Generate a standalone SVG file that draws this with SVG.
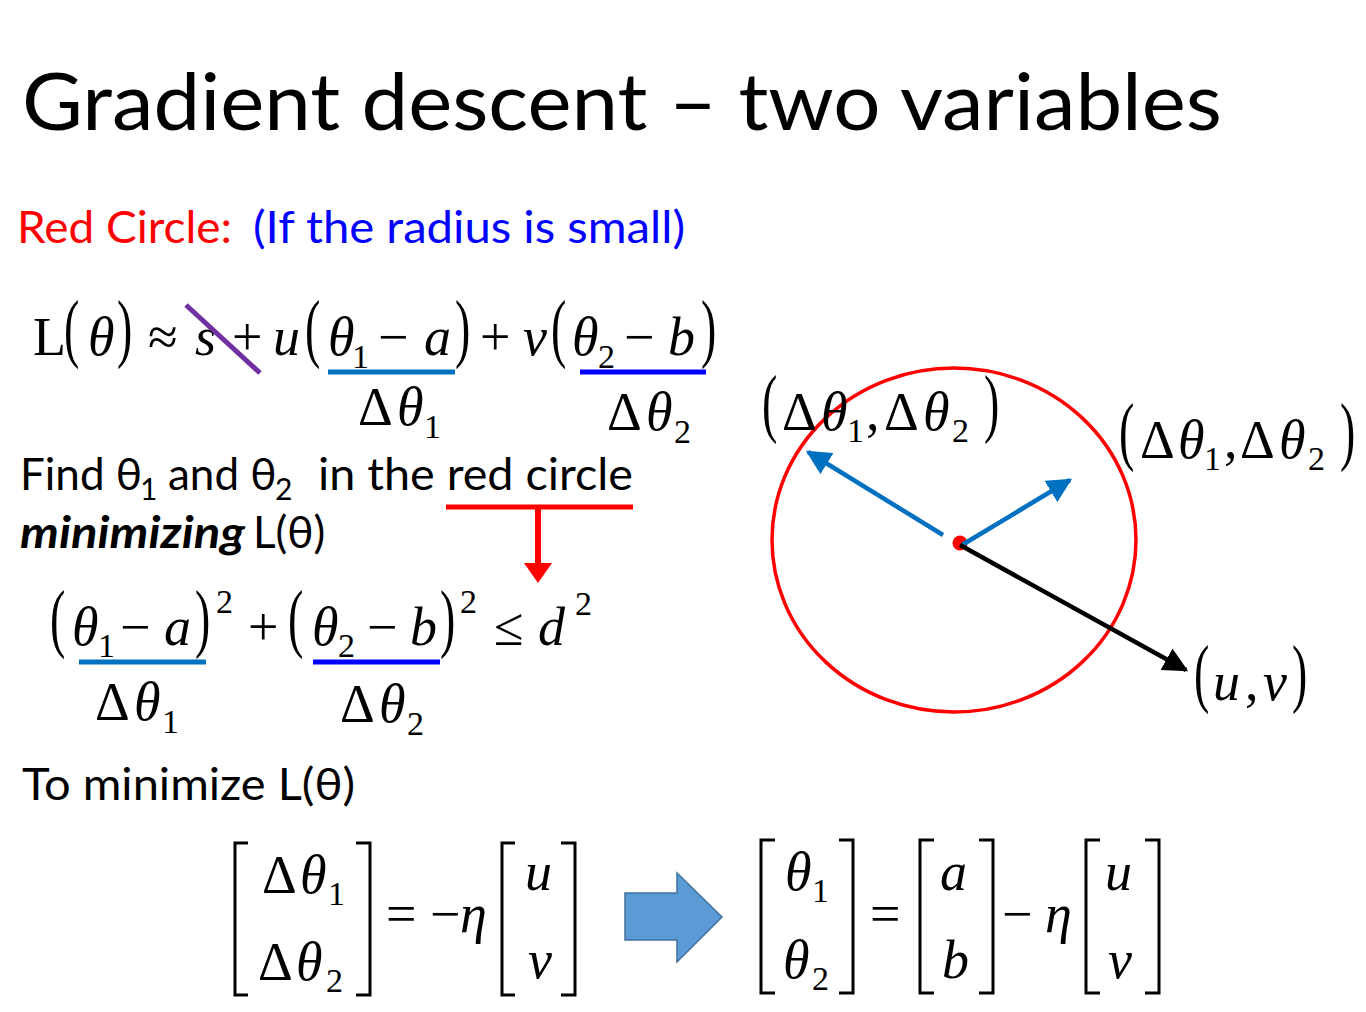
<svg xmlns="http://www.w3.org/2000/svg" width="1366" height="1012" viewBox="0 0 1366 1012">
<style>
.sans{font-family:Lato,"Open Sans","DejaVu Sans",sans-serif;fill:#000}
.m{font-family:"Liberation Serif","Times New Roman",serif;font-style:italic;font-size:54px;fill:#000}
.u{font-family:"Liberation Serif","Times New Roman",serif;font-style:normal;font-size:54px;fill:#000}
.s{font-family:"Liberation Serif","Times New Roman",serif;font-style:normal;font-size:34px;fill:#000}
.br{fill:none;stroke:#000;stroke-width:3}
.ul1{stroke:#0070C0;stroke-width:5}
.ul2{stroke:#0000FF;stroke-width:5}
</style>
<defs>
<marker id="ab" viewBox="0 0 10 10" refX="9" refY="5" markerWidth="5.5" markerHeight="5.5" orient="auto"><path d="M0,0 L10,5 L0,10 z" fill="#0070C0"/></marker>
<marker id="ak" viewBox="0 0 10 10" refX="9" refY="5" markerWidth="5.5" markerHeight="5.5" orient="auto"><path d="M0,0 L10,5 L0,10 z" fill="#000"/></marker>
</defs>
<rect width="1366" height="1012" fill="#fff"/>

<g id="title">
<text class="sans" x="22" y="130" font-size="80" textLength="1200" lengthAdjust="spacingAndGlyphs">Gradient descent – two variables</text>
</g>

<g id="subtitle">
<text class="sans" x="17" y="243" font-size="44" style="fill:#FF0000" textLength="215" lengthAdjust="spacingAndGlyphs">Red Circle:</text>
<text class="sans" x="253" y="243" font-size="44" style="fill:#0000FF" textLength="432" lengthAdjust="spacingAndGlyphs">(If the radius is small)</text>
</g>

<g id="eq1">
<text class="u" x="33" y="355">L</text>
<text class="u" transform="translate(64,353) scale(0.85,1.4)">(</text>
<text class="m" x="88" y="355">θ</text>
<text class="u" transform="translate(117,353) scale(0.85,1.4)">)</text>
<text class="u" x="148" y="355">≈</text>
<text class="m" x="195" y="355">s</text>
<text class="u" x="232" y="355">+</text>
<text class="m" x="273" y="355">u</text>
<text class="u" transform="translate(305,353) scale(0.85,1.4)">(</text>
<text class="m" x="328" y="355">θ</text>
<text class="s" x="352" y="368">1</text>
<text class="u" x="378" y="355">−</text>
<text class="m" x="424" y="355">a</text>
<text class="u" transform="translate(455,353) scale(0.85,1.4)">)</text>
<text class="u" x="480" y="355">+</text>
<text class="m" x="523" y="355">v</text>
<text class="u" transform="translate(551,353) scale(0.85,1.4)">(</text>
<text class="m" x="572" y="355">θ</text>
<text class="s" x="598" y="368">2</text>
<text class="u" x="624" y="355">−</text>
<text class="m" x="668" y="355">b</text>
<text class="u" transform="translate(701,353) scale(0.85,1.4)">)</text>
<line x1="186" y1="305" x2="260" y2="373" stroke="#7030A0" stroke-width="5"/>
<line class="ul1" x1="328" y1="372" x2="455" y2="372"/>
<line class="ul2" x1="580" y1="372" x2="706" y2="372"/>
<text class="u" x="358" y="425">Δ</text>
<text class="m" x="397" y="425">θ</text>
<text class="s" x="424" y="438">1</text>
<text class="u" x="607" y="430">Δ</text>
<text class="m" x="646" y="430">θ</text>
<text class="s" x="674" y="443">2</text>
</g>

<g id="find">
<text class="sans" x="20" y="490" font-size="44">Find θ</text>
<text class="sans" x="140" y="500" font-size="30">1</text>
<text class="sans" x="168" y="490" font-size="44">and θ</text>
<text class="sans" x="275" y="500" font-size="30">2</text>
<text class="sans" x="318" y="490" font-size="44" textLength="315" lengthAdjust="spacingAndGlyphs">in the red circle</text>
<text class="sans" x="20" y="548" font-size="44" font-weight="bold" font-style="italic" textLength="225" lengthAdjust="spacingAndGlyphs">minimizing</text>
<text class="sans" x="253" y="548" font-size="44">L(θ)</text>
</g>

<g id="redarrow">
<line x1="446" y1="507" x2="633" y2="507" stroke="#FF0000" stroke-width="5"/>
<line x1="538" y1="507" x2="538" y2="566" stroke="#FF0000" stroke-width="6"/>
<polygon points="524,563 552,563 538,583" fill="#FF0000"/>
</g>

<g id="eq2">
<text class="u" transform="translate(50,643) scale(0.85,1.4)">(</text>
<text class="m" x="72" y="645">θ</text>
<text class="s" x="98" y="657">1</text>
<text class="u" x="120" y="645">−</text>
<text class="m" x="164" y="645">a</text>
<text class="u" transform="translate(195,643) scale(0.85,1.4)">)</text>
<text class="s" x="216" y="613">2</text>
<text class="u" x="248" y="645">+</text>
<text class="u" transform="translate(288,643) scale(0.85,1.4)">(</text>
<text class="m" x="312" y="645">θ</text>
<text class="s" x="338" y="657">2</text>
<text class="u" x="367" y="645">−</text>
<text class="m" x="410" y="645">b</text>
<text class="u" transform="translate(440,643) scale(0.85,1.4)">)</text>
<text class="s" x="460" y="613">2</text>
<text class="u" x="494" y="645">≤</text>
<text class="m" x="538" y="645">d</text>
<text class="s" x="575" y="615">2</text>
<line class="ul1" x1="79" y1="662" x2="206" y2="662"/>
<line class="ul2" x1="313" y1="662" x2="440" y2="662"/>
<text class="u" x="95" y="720">Δ</text>
<text class="m" x="134" y="720">θ</text>
<text class="s" x="162" y="733">1</text>
<text class="u" x="340" y="722">Δ</text>
<text class="m" x="379" y="722">θ</text>
<text class="s" x="407" y="735">2</text>
</g>

<g id="tomin">
<text class="sans" x="22" y="800" font-size="44" textLength="333" lengthAdjust="spacingAndGlyphs">To minimize L(θ)</text>
</g>

<g id="circle">
<ellipse cx="954" cy="540" rx="182" ry="172" fill="none" stroke="#FF0000" stroke-width="3.5"/>
<circle cx="960" cy="543" r="7.5" fill="#FF0000"/>
</g>

<g id="connectors">
<line x1="943" y1="535" x2="808" y2="452" stroke="#0070C0" stroke-width="4.5" marker-end="url(#ab)"/>
<line x1="962" y1="545" x2="1070" y2="480" stroke="#0070C0" stroke-width="4.5" marker-end="url(#ab)"/>
<line x1="960" y1="545" x2="1186" y2="670" stroke="#000" stroke-width="4.5" marker-end="url(#ak)"/>
</g>

<g id="label1">
<text class="u" transform="translate(762,428) scale(0.85,1.4)">(</text>
<text class="u" x="782" y="430">Δ</text>
<text class="m" x="821" y="430">θ</text>
<text class="s" x="847" y="442">1</text>
<text class="u" x="866" y="430">,</text>
<text class="u" x="884" y="430">Δ</text>
<text class="m" x="923" y="430">θ</text>
<text class="s" x="952" y="442">2</text>
<text class="u" transform="translate(984,428) scale(0.85,1.4)">)</text>
</g>

<g id="label2">
<text class="u" transform="translate(1119,456) scale(0.85,1.4)">(</text>
<text class="u" x="1140" y="458">Δ</text>
<text class="m" x="1178" y="458">θ</text>
<text class="s" x="1204" y="470">1</text>
<text class="u" x="1224" y="458">,</text>
<text class="u" x="1240" y="458">Δ</text>
<text class="m" x="1279" y="458">θ</text>
<text class="s" x="1308" y="470">2</text>
<text class="u" transform="translate(1340,456) scale(0.85,1.4)">)</text>
</g>

<g id="label3">
<text class="u" transform="translate(1194,698) scale(0.85,1.4)">(</text>
<text class="m" x="1213" y="700">u</text>
<text class="u" x="1245" y="700">,</text>
<text class="m" x="1263" y="700">v</text>
<text class="u" transform="translate(1292,698) scale(0.85,1.4)">)</text>
</g>

<g id="eq3">
<path class="br" d="M248,843 H235 V995 H248"/>
<path class="br" d="M356,843 H370 V995 H356"/>
<text class="u" x="262" y="893">Δ</text>
<text class="m" x="300" y="893">θ</text>
<text class="s" x="328" y="905">1</text>
<text class="u" x="258" y="980">Δ</text>
<text class="m" x="296" y="980">θ</text>
<text class="s" x="326" y="992">2</text>
<text class="u" x="386" y="932">=</text>
<text class="u" x="430" y="932">−</text>
<text class="m" x="460" y="932">η</text>
<path class="br" d="M515,843 H502 V995 H515"/>
<path class="br" d="M561,843 H575 V995 H561"/>
<text class="m" x="525" y="890">u</text>
<text class="m" x="528" y="978">v</text>
</g>

<g id="blockarrow">
<polygon points="625,893 677,893 677,873 722,917 677,962 677,940 625,940" fill="#5B9BD5" stroke="#41719C" stroke-width="1.5"/>
</g>

<g id="eq4">
<path class="br" d="M775,840 H761 V993 H775"/>
<path class="br" d="M839,840 H853 V993 H839"/>
<text class="m" x="785" y="890">θ</text>
<text class="s" x="812" y="902">1</text>
<text class="m" x="783" y="978">θ</text>
<text class="s" x="812" y="990">2</text>
<text class="u" x="870" y="932">=</text>
<path class="br" d="M934,840 H920 V993 H934"/>
<path class="br" d="M979,840 H993 V993 H979"/>
<text class="m" x="940" y="890">a</text>
<text class="m" x="942" y="978">b</text>
<text class="u" x="1002" y="932">−</text>
<text class="m" x="1045" y="932">η</text>
<path class="br" d="M1100,840 H1086 V993 H1100"/>
<path class="br" d="M1145,840 H1159 V993 H1145"/>
<text class="m" x="1105" y="890">u</text>
<text class="m" x="1108" y="978">v</text>
</g>
</svg>
